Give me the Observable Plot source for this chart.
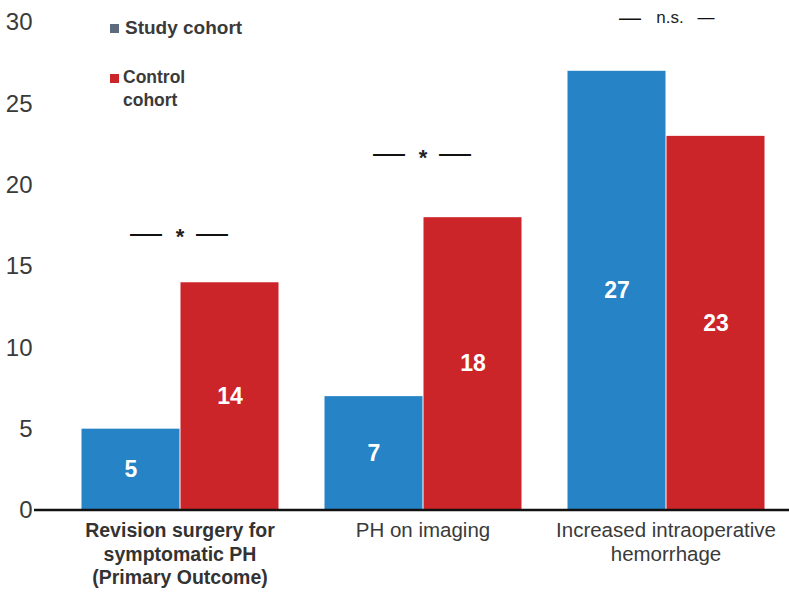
<!DOCTYPE html>
<html>
<head>
<meta charset="utf-8">
<script src="https://cdn.jsdelivr.net/npm/d3@7"></script>
<script src="https://cdn.jsdelivr.net/npm/@observablehq/plot@0.6"></script>
<style>
  html, body { margin: 0; padding: 0; background: #fff; }
  #wrap { position: relative; width: 789px; height: 597px; font-family: "Liberation Sans", Arial, sans-serif; }
  .leg { position: absolute; font-weight: bold; color: #3a3a3a; line-height: 23px; }
  .sq { position: absolute; width: 9px; height: 9px; }
</style>
</head>
<body>
<div id="wrap"></div>
<script>
const categories = ["Revision surgery for\nsymptomatic PH\n(Primary Outcome)", "PH on imaging", "Increased intraoperative\nhemorrhage"];
const cohorts = ["Study cohort", "Control cohort"];
const studyValues = [5, 7, 27];
const controlValues = [14, 18, 23];
const sigLabels = ["*", "*", "n.s."];
const sigLevels = [17.1, 22, 30.3];
const yTicks = [0, 5, 10, 15, 20, 25, 30];
const colors = ["#2683C6", "#CC2529"];
const legendColors = ["#5E6A7D", "#CC2529"];

const data = [];
categories.forEach((c, i) => {
  data.push({category: c, cohort: cohorts[0], value: studyValues[i]});
  data.push({category: c, cohort: cohorts[1], value: controlValues[i]});
});
const catData = categories.map((c, i) => ({category: c, bold: i === 0}));
const sigData = categories.map((c, i) => ({category: c, label: sigLabels[i], y: sigLevels[i], ns: sigLabels[i] !== "*"}));

const plot = Plot.plot({
  width: 789,
  height: 597,
  marginLeft: 80,
  marginRight: 23,
  marginTop: 22,
  marginBottom: 87,
  style: {fontFamily: "'Liberation Sans', Arial, sans-serif", background: "#fff"},
  fx: {domain: categories, paddingInner: 0.18, paddingOuter: 0, axis: null},
  x: {domain: cohorts, padding: 0, axis: null},
  y: {domain: [0, 30], axis: null},
  color: {domain: cohorts, range: colors},
  marks: [
    Plot.barY(data, {fx: "category", x: "cohort", y: "value", fill: "cohort", insetRight: 0.5, insetLeft: 0.5}),
    Plot.text(data, {fx: "category", x: "cohort", y: d => d.value / 2, text: d => String(d.value), fill: "white", fontWeight: "bold", fontSize: 23}),
    Plot.axisY(yTicks, {tickSize: 0, tickPadding: 48, fontSize: 24, fill: "#3a3a3a", label: null}),
    Plot.text(catData.filter(d => d.bold), {fx: "category", text: "category", frameAnchor: "bottom", lineAnchor: "top", dy: 10, fontSize: 19.5, fontWeight: "bold", fill: "#333", lineHeight: 1.2}),
    Plot.text(catData.filter(d => !d.bold), {fx: "category", text: "category", frameAnchor: "bottom", lineAnchor: "top", dy: 10, fontSize: 20.5, fill: "#3a3a3a", lineHeight: 1.15}),
    Plot.text(sigData.filter(d => !d.ns), {fx: "category", y: "y", text: "label", fontSize: 22, fontWeight: "bold", fill: "#222", dy: 5}),
    Plot.text(sigData.filter(d => d.ns), {fx: "category", y: "y", text: "label", fontSize: 17, fill: "#222", dx: 4}),
    Plot.text(sigData.filter(d => !d.ns), {fx: "category", y: "y", text: () => "\u2014", fontSize: 32, fill: "#111", dx: -34}),
    Plot.text(sigData.filter(d => !d.ns), {fx: "category", y: "y", text: () => "\u2014", fontSize: 32, fill: "#111", dx: 32}),
    Plot.text(sigData.filter(d => d.ns), {fx: "category", y: "y", text: () => "\u2014", fontSize: 22, fill: "#111", dx: -36}),
    Plot.text(sigData.filter(d => d.ns), {fx: "category", y: "y", text: () => "\u2014", fontSize: 17, fill: "#111", dx: 40})
  ]
});

// full-width baseline at y = 0, positioned via the plot's y scale
const y0 = plot.scale("y").apply(0);
const ns = "http://www.w3.org/2000/svg";
const line = document.createElementNS(ns, "line");
line.setAttribute("x1", 34); line.setAttribute("x2", 789);
line.setAttribute("y1", y0); line.setAttribute("y2", y0);
line.setAttribute("stroke", "#111"); line.setAttribute("stroke-width", 2.5);
plot.appendChild(line);

const wrap = document.getElementById("wrap");
wrap.appendChild(plot);

// legend
const legendItems = [
  {label: cohorts[0], color: legendColors[0], sq: [110, 24], txt: [125, 16], w: 220, size: 19},
  {label: "Control<br>cohort", color: legendColors[1], sq: [110, 74], txt: [123, 66], w: 80, size: 17.5}
];
legendItems.forEach(it => {
  const s = document.createElement("div");
  s.className = "sq"; s.style.left = it.sq[0] + "px"; s.style.top = it.sq[1] + "px"; s.style.background = it.color;
  wrap.appendChild(s);
  const t = document.createElement("div");
  t.className = "leg"; t.style.left = it.txt[0] + "px"; t.style.top = it.txt[1] + "px"; t.style.width = it.w + "px";
  t.style.fontSize = it.size + "px";
  t.innerHTML = it.label;
  wrap.appendChild(t);
});
</script>
</body>
</html>
